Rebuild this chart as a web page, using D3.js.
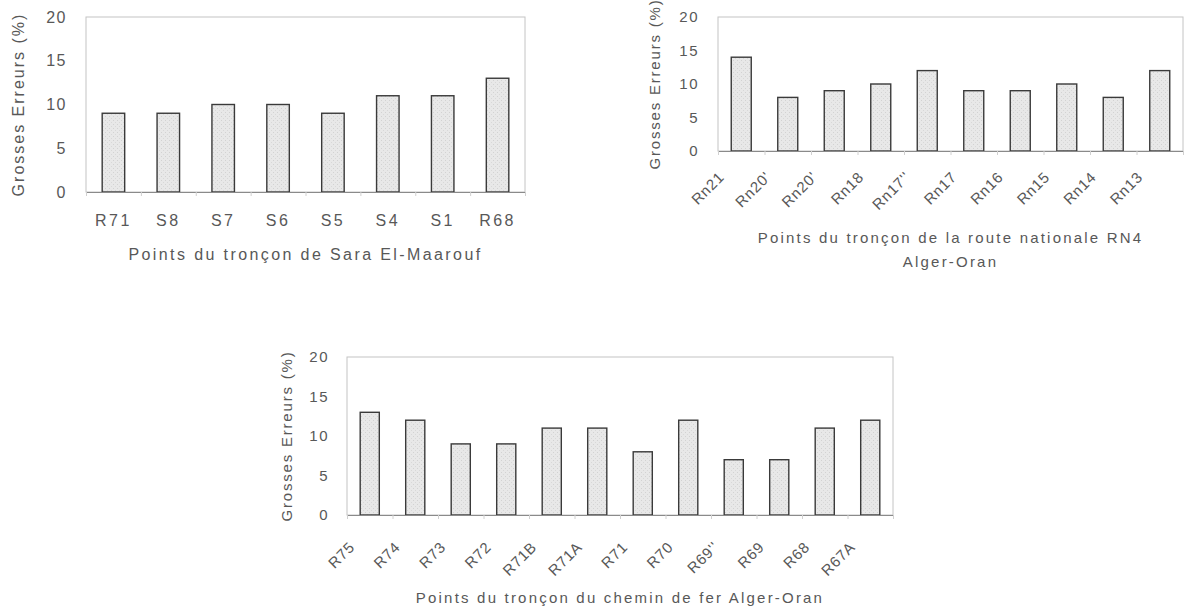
<!DOCTYPE html>
<html>
<head>
<meta charset="utf-8">
<script src="https://cdn.jsdelivr.net/npm/d3@7"></script>
<style>
  html, body { margin: 0; padding: 0; background: #fff; }
  svg { display: block; }
  text { font-family: "Liberation Sans", Arial, sans-serif; fill: #585858; }
</style>
</head>
<body>
<svg id="chart" width="1189" height="610"></svg>
<script>
// ---- Data ----
const yTicks = [0, 5, 10, 15, 20];
const yTitle = "Grosses Erreurs (%)";

const sarCategories = ["R71", "S8", "S7", "S6", "S5", "S4", "S1", "R68"];
const sarValues     = [9, 9, 10, 10, 9, 11, 11, 13];
const sarTitle      = ["Points du tronçon de Sara El-Maarouf"];

const rnCategories = ["Rn21", "Rn20'", "Rn20'", "Rn18", "Rn17''", "Rn17", "Rn16", "Rn15", "Rn14", "Rn13"];
const rnValues     = [14, 8, 9, 10, 12, 9, 9, 10, 8, 12];
const rnTitle      = ["Points du tronçon de la route nationale RN4", "Alger-Oran"];

const cfCategories = ["R75", "R74", "R73", "R72", "R71B", "R71A", "R71", "R70", "R69''", "R69", "R68", "R67A"];
const cfValues     = [13, 12, 9, 9, 11, 11, 8, 12, 7, 7, 11, 12];
const cfTitle      = ["Points du tronçon du chemin de fer Alger-Oran"];

const svg = d3.select("#chart");

// texture pattern for bars
const defs = svg.append("defs");
const pat = defs.append("pattern").attr("id", "stipple")
  .attr("width", 4).attr("height", 4).attr("patternUnits", "userSpaceOnUse");
pat.append("rect").attr("width", 4).attr("height", 4).attr("fill", "#e8e8e8");
pat.append("rect").attr("x", 1).attr("y", 0).attr("width", 1).attr("height", 1).attr("fill", "#d2d2d2");
pat.append("rect").attr("x", 3).attr("y", 2).attr("width", 1).attr("height", 1).attr("fill", "#d8d8d8");

function drawChart(cfg) {
  const g = svg.append("g");
  const x = d3.scaleBand().domain(d3.range(cfg.categories.length))
    .range([cfg.left, cfg.right]).paddingInner(cfg.pad).paddingOuter(cfg.pad / 2);
  const y = d3.scaleLinear().domain([0, 20]).range([cfg.bottom, cfg.top]);

  // plot frame
  g.append("rect")
    .attr("x", cfg.left).attr("y", cfg.top)
    .attr("width", cfg.right - cfg.left).attr("height", cfg.bottom - cfg.top)
    .attr("fill", "none").attr("stroke", "#c4c4c4").attr("stroke-width", 1);

  // bars
  g.selectAll("rect.bar").data(cfg.values).join("rect")
    .attr("class", "bar")
    .attr("x", (d, i) => x(i))
    .attr("y", d => y(d))
    .attr("width", x.bandwidth())
    .attr("height", d => y(0) - y(d))
    .attr("fill", "url(#stipple)")
    .attr("stroke", "#3a3a3a").attr("stroke-width", 1.4);

  // x axis baseline + small ticks between categories
  const xAxis = d3.axisBottom(d3.scaleLinear().domain([0, cfg.categories.length]).range([cfg.left, cfg.right]))
    .tickValues(d3.range(cfg.categories.length + 1)).tickSize(4).tickFormat("");
  const xa = g.append("g").attr("transform", `translate(0,${cfg.bottom})`).call(xAxis);
  xa.select(".domain").attr("stroke", "#8a8a8a");
  xa.selectAll(".tick line").attr("stroke", "#d0d0d0");

  // y axis labels
  const yAxis = d3.axisLeft(y).tickValues(yTicks).tickSize(0).tickPadding(cfg.yPad);
  const ya = g.append("g").attr("transform", `translate(${cfg.left},0)`).call(yAxis);
  ya.select(".domain").remove();
  ya.selectAll(".tick text")
    .style("font-size", cfg.fs + "px").style("letter-spacing", "1.5px")
    .attr("fill", "#585858").attr("font-family", null);

  // category labels
  const labels = g.selectAll("text.cat").data(cfg.categories).join("text")
    .attr("class", "cat")
    .style("font-size", cfg.catFs + "px")
    .style("letter-spacing", cfg.catLs + "px");
  if (cfg.rotate) {
    labels.attr("text-anchor", "end")
      .attr("transform", (d, i) => `translate(${x(i) + x.bandwidth() / 2 + cfg.labDx},${cfg.bottom + cfg.labDy}) rotate(-45)`)
      .text(d => d);
  } else {
    labels.attr("text-anchor", "middle")
      .attr("x", (d, i) => x(i) + x.bandwidth() / 2)
      .attr("y", cfg.bottom + cfg.labDy)
      .text(d => d);
  }

  // y title
  g.append("text")
    .attr("transform", `translate(${cfg.yTitleX},${(cfg.top + cfg.bottom) / 2}) rotate(-90)`)
    .attr("text-anchor", "middle")
    .style("font-size", cfg.fs + "px").style("letter-spacing", cfg.ls + "px")
    .text(yTitle);

  // x title
  cfg.title.forEach((t, k) => {
    g.append("text")
      .attr("x", (cfg.left + cfg.right) / 2)
      .attr("y", cfg.titleY + k * cfg.lineH)
      .attr("text-anchor", "middle")
      .style("font-size", cfg.fs + "px").style("letter-spacing", cfg.titleLs + "px")
      .text(t);
  });
}

drawChart({
  categories: sarCategories, values: sarValues, title: sarTitle,
  left: 86, right: 525, top: 17, bottom: 192, pad: 0.59,
  fs: 16, ls: 2, titleLs: 2.4, catFs: 16, catLs: 2.5, yPad: 19,
  rotate: false, labDy: 34, yTitleX: 24, titleY: 260, lineH: 24
});

drawChart({
  categories: rnCategories, values: rnValues, title: rnTitle,
  left: 718, right: 1183, top: 17, bottom: 151, pad: 0.57,
  fs: 15, ls: 1.8, titleLs: 2.2, catFs: 15, catLs: 0.8, yPad: 19,
  rotate: true, labDx: -16, labDy: 27, yTitleX: 660, titleY: 243, lineH: 24
});

drawChart({
  categories: cfCategories, values: cfValues, title: cfTitle,
  left: 347, right: 893, top: 357, bottom: 515, pad: 0.58,
  fs: 15, ls: 1.8, titleLs: 2.2, catFs: 15, catLs: 0.8, yPad: 18,
  rotate: true, labDx: -14, labDy: 33, yTitleX: 292, titleY: 603, lineH: 24
});
</script>
</body>
</html>
